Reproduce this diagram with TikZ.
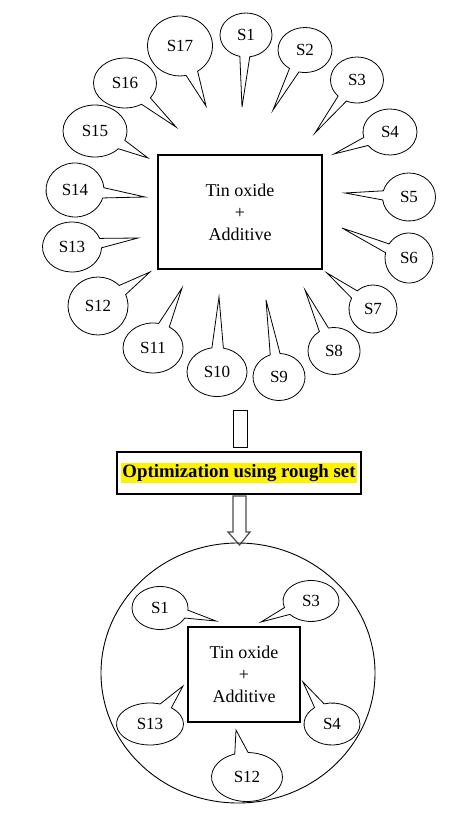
\documentclass[tikz,border=0pt]{standalone}
\usepackage{fontspec}
\setmainfont{Liberation Serif}
\usetikzlibrary{shapes.callouts,shapes.geometric}
\tikzset{
  bubble/.style={ellipse callout, draw, line width=0.8pt, inner sep=0pt,
    font=\fontsize{17}{20}\selectfont, callout pointer arc=22},
  mainbox/.style={draw, line width=1.2pt, align=center, inner sep=0pt},
}
\newcommand{\bub}[7]{% name, cx, cy, w, h, tipx, tipy, then label
  \coordinate (#1tip) at (#6,#7);
  \node[bubble, minimum width=#4pt, minimum height=#5pt,
        callout absolute pointer={(#1tip)}] (#1) at (#2,#3)}
\begin{document}
\begin{tikzpicture}[x=1pt,y=-1pt]
\useasboundingbox (0,0) rectangle (450,821);
\fill[white] (0,0) rectangle (450,821);

% upper main box
\node[mainbox, minimum width=164pt, minimum height=114pt,
      font=\fontsize{18}{22}\selectfont] (box) at (240,212) {Tin oxide\\+\\Additive};

\bub{s1}{246}{35}{52}{44}{242}{107} {S1};
\bub{s2}{305}{50}{54}{45}{273}{110} {S2};
\bub{s3}{357}{80}{53}{46}{315}{133} {S3};
\bub{s4}{390}{132}{54}{46}{334}{154} {S4};
\bub{s5}{409}{197}{53}{48}{345}{193} {S5};
\bub{s6}{409}{258}{48}{50}{342}{228} {S6};
\bub{s7}{373}{309}{48}{48}{327}{273} {S7};
\bub{s8}{334}{351}{52}{47}{305}{290} {S8};
\bub{s9}{279}{377}{52}{47}{266}{300} {S9};
\bub{s10}{217}{372}{60}{49}{219}{297} {S10};
\bub{s11}{153}{348}{60}{50}{182}{288} {S11};
\bub{s12}{98}{306}{60}{58}{150}{272} {S12};
\bub{s13}{72}{247}{59}{50}{138}{238} {S13};
\bub{s14}{75}{190}{58}{54}{145}{197} {S14};
\bub{s15}{95}{131}{64}{52}{148}{158} {S15};
\bub{s16}{125}{83}{63}{50}{176}{127} {S16};
\bub{s17}{180}{46}{65}{60}{206}{106} {S17};

% shaft
\node[draw, line width=1pt, minimum width=14pt, minimum height=37pt, inner sep=0pt] (shaft) at (240,428.5) {};

% optimization label
\node[draw, line width=1.2pt, fill=white, minimum width=244pt, minimum height=42pt, inner sep=0pt] (opt) at (239,473) {};
\node[fill=yellow, inner xsep=1pt, inner ysep=1.5pt, font=\bfseries\fontsize{18.8}{21}\selectfont] (optlabel) at (opt.center) {Optimization using rough set};

% hollow arrow
\draw[draw=gray!60!black, line width=1.2pt, line join=miter]
  (233,496) -- (246,496) -- (246,532) -- (250,532) -- (239.5,545) -- (228,532) -- (233,532) -- cycle;

% lower circle
\node[ellipse, draw, line width=0.9pt, minimum width=274pt, minimum height=260pt, inner sep=0pt] (circ) at (238,673) {};

% lower box
\node[mainbox, minimum width=112pt, minimum height=95pt,
      font=\fontsize{18}{22}\selectfont] (box2) at (244,674.5) {Tin oxide\\+\\Additive};

\bub{r1}{160}{608}{56}{43}{216}{621} {S1};
\bub{r3}{311}{601}{56}{41}{261}{622} {S3};
\bub{r13}{150}{724}{67}{42}{183}{686} {S13};
\bub{r4}{332}{724}{56}{42}{303}{682} {S4};
\bub{r12}{247}{777}{71}{49}{236}{730} {S12};
\end{tikzpicture}
\end{document}
